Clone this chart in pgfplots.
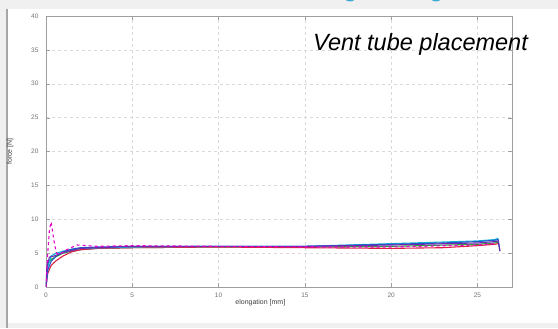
\documentclass[border=0pt]{standalone}
\usepackage{fontspec}
\setmainfont{Liberation Sans}
\usepackage{pgfplots}
\pgfplotsset{compat=1.18}
\definecolor{bggray}{RGB}{240,240,240}
\definecolor{teal1}{RGB}{60,170,210}
\definecolor{cBlue}{RGB}{30,90,200}
\definecolor{cRed}{RGB}{220,30,70}
\definecolor{cGreen}{RGB}{40,160,60}
\definecolor{cCyan}{RGB}{20,180,220}
\definecolor{cMag}{RGB}{230,0,200}
\definecolor{cPurp}{RGB}{110,40,180}
\begin{document}
\begin{tikzpicture}[x=1pt,y=1pt]
\fill[bggray] (0,0) rectangle (558,328);
\fill[white] (8,5) rectangle (558,319);
\draw[gray!70,line width=1.2pt] (7,0) -- (7,319);
\begin{scope}
\clip (0,0) rectangle (558,328);
\fill[teal1] (350,333.5) circle (7);
\fill[teal1] (436,333.5) circle (7);
\end{scope}
\begin{axis}[
  at={(46pt,41pt)}, anchor=south west,
  scale only axis, width=466pt, height=271pt,
  xmin=0, xmax=27, ymin=0, ymax=40,
  xtick={0,5,10,15,20,25}, ytick={0,5,10,15,20,25,30,35,40},
  grid=major,
  major grid style={dashed, gray!30},
  axis line style={gray!75},
  tick style={gray!75},
  tick label style={font=\fontsize{6.5}{6.5}\selectfont, text=gray!90!black},
  yticklabel style={xshift=-4pt},
  xticklabel style={yshift=-2pt},
  xlabel={elongation [mm]}, ylabel={force [N]},
  xlabel style={font=\fontsize{7}{7}\selectfont, text=black!75, at={(axis description cs:0.46,0)}, yshift=-9pt},
  ylabel style={font=\fontsize{7}{7}\selectfont, text=black!75, yshift=11pt},
  /pgf/number format/assume math mode=true,
  every axis plot/.append style={line width=1.1pt},
]
\addplot[cGreen] coordinates {(0,0)(0.1,3.5)(0.3,4.1)(0.6,4.5)(1,5.0)(1.5,5.3)(2,5.5)(3,5.7)(5,5.8)(10,5.9)(15,5.9)(20,6.0)(25,6.3)(26,6.5)(26.2,6.6)};
\addplot[cRed] coordinates {(0,0)(0.1,2.0)(0.3,3.2)(0.6,3.9)(1,4.6)(1.5,5.2)(2,5.5)(3,5.7)(5,5.8)(10,5.9)(15,5.8)(20,5.7)(23,5.8)(25,6.1)(26,6.3)(26.2,6.4)};
\addplot[cCyan] coordinates {(0,0)(0.1,3)(0.3,4.6)(0.6,5.0)(1,5.3)(2,5.7)(5,5.9)(10,6.0)(15,6.0)(20,6.4)(25,6.8)(26,7.0)(26.2,7.2)};
\addplot[cBlue] coordinates {(0,0)(0.1,2.5)(0.3,3.8)(0.6,4.6)(1,5.2)(1.5,5.6)(2,5.8)(3,5.9)(5,6.0)(10,6.0)(15,6.0)(20,6.3)(23,6.5)(25,6.7)(26,6.9)(26.2,7.0)(26.3,5.3)};
\addplot[cPurp] coordinates {(0,0)(0.05,3)(0.2,4.4)(0.5,4.6)(1,5.1)(2,5.7)(5,6.0)(10,6.0)(15,6.0)(20,6.2)(25,6.5)(26,6.7)(26.2,6.8)(26.3,5.3)};
\addplot[cMag, dashed] coordinates {(0,0)(0.1,5)(0.2,8.5)(0.3,9.6)(0.45,7)(0.6,5)(0.8,4.8)(1.2,5.5)(1.8,6.2)(3,6.0)(5,6.1)(10,6.0)(15,5.9)(20,5.9)(25,6.2)(26,6.4)};
\end{axis}
\node[anchor=base west, font=\fontsize{23.5}{23.5}\selectfont\itshape, inner sep=0] at (313,277) {Vent tube placement};
\end{tikzpicture}
\end{document}
